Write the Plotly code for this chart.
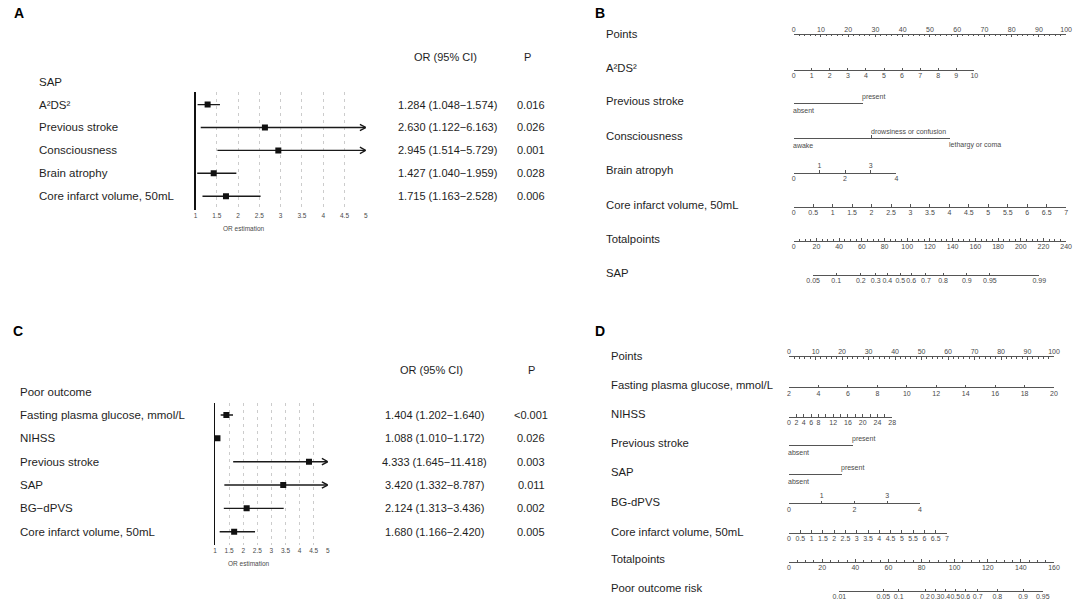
import plotly.graph_objects as go

W, H = 1084, 603
FONT = "Liberation Sans, Arial, sans-serif"
TXT = "#1e1e1e"
LINE_C = "#555555"
TICK_C = "#4a4a4a"

# ---------------- Panel A: forest plot (SAP) ----------------
a_header = "SAP"
a_vars = ["A²DS²", "Previous stroke", "Consciousness", "Brain atrophy", "Core infarct volume, 50mL"]
a_or = [1.284, 2.630, 2.945, 1.427, 1.715]
a_lo = [1.048, 1.122, 1.514, 1.040, 1.163]
a_hi = [1.574, 6.163, 5.729, 1.959, 2.528]
a_p = ["0.016", "0.026", "0.001", "0.028", "0.006"]

# ---------------- Panel C: forest plot (Poor outcome) ----------------
c_header = "Poor outcome"
c_vars = ["Fasting plasma glucose, mmol/L", "NIHSS", "Previous stroke", "SAP", "BG−dPVS",
          "Core infarct volume, 50mL"]
c_or = [1.404, 1.088, 4.333, 3.420, 2.124, 1.680]
c_lo = [1.202, 1.010, 1.645, 1.332, 1.313, 1.166]
c_hi = [1.640, 1.172, 11.418, 8.787, 3.436, 2.420]
c_p = ["<0.001", "0.026", "0.003", "0.011", "0.002", "0.005"]

forest_xmin, forest_xmax = 1, 5

# ---------------- Panel B: nomogram (SAP) ----------------
b_points_max = 100
b_a2ds2_max, b_a2ds2_pts = 10, 66.3
b_prev_labels = ["absent", "present"]
b_prev_pts = [0, 25.4]
b_cons_labels = ["awake", "drowsiness or confusion", "lethargy or coma"]
b_cons_pts = [0, 28.6, 57.2]
b_atrophy_max, b_atrophy_pts = 4, 37.7
b_core_max, b_core_pts = 7, 100
b_total_max = 240
b_sap_labels = ["0.05", "0.1", "0.2", "0.3", "0.4", "0.5", "0.6", "0.7", "0.8", "0.9", "0.95", "0.99"]
b_sap_total = [17.1, 37.4, 59.1, 72.2, 82.4, 93.9, 103.5, 116.5, 131.6, 152.5, 172.8, 216.3]

# ---------------- Panel D: nomogram (Poor outcome) ----------------
d_points_max = 100
d_fpg_min, d_fpg_max = 2, 20
d_nihss_ticks = [0, 2, 4, 6, 8, 10, 12, 14, 16, 18, 20, 22, 24, 26, 28]
d_nihss_labels = ["0", "2", "4", "6", "8", "", "12", "", "16", "", "20", "", "24", "", "28"]
d_nihss_pts = 38.9
d_prev_labels = ["absent", "present"]
d_prev_pts = [0, 24.0]
d_sap_labels = ["absent", "present"]
d_sap_pts = [0, 20.0]
d_bg_max, d_bg_pts = 4, 49.4
d_core_max, d_core_pts = 7, 59.6
d_total_max = 160
d_risk_labels = ["0.01", "0.05", "0.1", "0.2", "0.3", "0.4", "0.5", "0.6", "0.7", "0.8", "0.9", "0.95"]
d_risk_total = [30.4, 56.9, 66.2, 82.1, 88.5, 94.4, 100.4, 106.4, 113.9, 125.8, 141.3, 153.2]

# ============================================================
layout = {}
traces = []
annotations = []


def py(px):
    return 1 - px / H


def txt(x_px, y_px, text, size=11.5, xanchor="left", color=TXT, bold=False):
    annotations.append(dict(
        x=x_px / W, xref="paper", y=py(y_px), yref="paper",
        text=("<b>%s</b>" % text if bold else text), showarrow=False,
        xanchor=xanchor, yanchor="middle",
        font=dict(size=size, color=color, family=FONT)))


def forest(xid, yid, x0px, x1px, ytop_px, ybot_px, row0_px, row_h, header, names, ors, los, his, pvals,
           label_x, or_x, p_x, hdr_y, or_hdr_x, p_hdr_x, title_x, title_y):
    n = len(names)
    rows = list(range(1, n + 1))
    yr = [(ybot_px - row0_px) / row_h, (ytop_px - row0_px) / row_h]
    layout["xaxis" if xid == 1 else f"xaxis{xid}"] = dict(
        domain=[x0px / W, x1px / W], range=[forest_xmin, forest_xmax], anchor=f"y{yid if yid > 1 else ''}",
        tickmode="linear", tick0=1, dtick=0.5, showgrid=True, gridcolor="#cccccc", gridwidth=1,
        griddash="3px,4px", showline=False, zeroline=False, ticks="", tickangle=0,
        tickfont=dict(size=6.5, color=TICK_C, family=FONT), fixedrange=True)
    layout["yaxis" if yid == 1 else f"yaxis{yid}"] = dict(
        domain=[py(ybot_px), py(ytop_px)], range=yr, anchor=f"x{xid if xid > 1 else ''}",
        showline=True, linecolor="#111111", linewidth=1.3, showgrid=False, zeroline=False,
        showticklabels=False, ticks="", fixedrange=True)
    xa = "x" if xid == 1 else f"x{xid}"
    ya = "y" if yid == 1 else f"y{yid}"
    xs, ys = [], []
    for r, lo, hi in zip(rows, los, his):
        xs += [lo, min(hi, forest_xmax), None]
        ys += [r, r, None]
    # chevrons for CIs beyond the axis
    ux = (forest_xmax - forest_xmin) / (x1px - x0px)
    uy = 1 / row_h
    cx, cy = [], []
    for r, hi in zip(rows, his):
        if hi > forest_xmax:
            cx += [forest_xmax - 6 * ux, forest_xmax, forest_xmax - 6 * ux, None]
            cy += [r - 3.2 * uy, r, r + 3.2 * uy, None]
    traces.append(go.Scatter(x=xs, y=ys, mode="lines", line=dict(color="#1a1a1a", width=1.4),
                             xaxis=xa, yaxis=ya, showlegend=False, hoverinfo="skip"))
    traces.append(go.Scatter(x=cx, y=cy, mode="lines", line=dict(color="#1a1a1a", width=1.4),
                             xaxis=xa, yaxis=ya, showlegend=False, hoverinfo="skip"))
    traces.append(go.Scatter(x=ors, y=rows, mode="markers",
                             marker=dict(symbol="square", size=6, color="#111111"),
                             xaxis=xa, yaxis=ya, showlegend=False, hoverinfo="skip"))
    # texts (row r sits at row0_px + r*row_h)
    txt(label_x, row0_px, header)
    for r, nm, o, lo, hi, p in zip(rows, names, ors, los, his, pvals):
        ypx = row0_px + r * row_h
        txt(label_x, ypx, nm)
        txt(or_x, ypx, "%.3f (%.3f−%.3f)" % (o, lo, hi), size=11, xanchor="center")
        txt(p_x, ypx, p, size=11, xanchor="center")
    txt(or_hdr_x, hdr_y, "OR (95% CI)", size=11, xanchor="center")
    txt(p_hdr_x, hdr_y, "P", size=11, xanchor="center")
    txt(title_x, title_y, "OR estimation", size=6.5, xanchor="center", color=TICK_C)


forest(1, 1, 191, 363.5, 92, 210, 81.7, 22.9, a_header, a_vars, a_or, a_lo, a_hi, a_p,
       30, 446, 531, 57, 444, 527, 240, 228)
forest(2, 2, 210.7, 325, 403, 545, 391.7, 23.33, c_header, c_vars, c_or, c_lo, c_hi, c_p,
       11, 433, 531, 370, 430, 531.5, 245, 563)

# ---------------- nomogram helpers ----------------
next_id = [3]


def new_id():
    k = next_id[0]
    next_id[0] += 1
    return k


def nomo_axis(dom, ypx, rng, side="bottom", **kw):
    k = new_id()
    yl = py(ypx)
    ydom = [yl, yl + 0.004] if side == "bottom" else [yl - 0.004, yl]
    ax = dict(domain=dom, range=rng, anchor=f"y{k}", side=side, showline=True, linecolor=LINE_C,
              linewidth=1, ticks="inside", ticklen=2.5, tickwidth=1, tickcolor=LINE_C, tickangle=0,
              tickfont=dict(size=7, color=TICK_C, family=FONT), showgrid=False, zeroline=False,
              ticklabelstandoff=-1, fixedrange=True)
    ax.update(kw)
    layout[f"xaxis{k}"] = ax
    layout[f"yaxis{k}"] = dict(domain=ydom, range=[0, 1], visible=False, fixedrange=True, anchor=f"x{k}")
    traces.append(go.Scatter(x=[None], y=[None], xaxis=f"x{k}", yaxis=f"y{k}", showlegend=False,
                             hoverinfo="skip"))
    return k


def nomo_top(base, rng, tickvals, ticktext):
    k = new_id()
    layout[f"xaxis{k}"] = dict(overlaying=f"x{base}", anchor=f"y{base}", side="top", range=rng,
                               tickmode="array", tickvals=tickvals, ticktext=ticktext, ticks="",
                               showline=False, showgrid=False, zeroline=False, tickangle=0,
                               tickfont=dict(size=7, color=TICK_C, family=FONT), fixedrange=True)
    traces.append(go.Scatter(x=[None], y=[None], xaxis=f"x{k}", yaxis=f"y{base}", showlegend=False,
                             hoverinfo="skip"))
    return k


def cat_labels(k, positions, labels, above, ypx):
    for pos, lab, up in zip(positions, labels, above):
        annotations.append(dict(
            x=pos, xref=f"x{k}", y=py(ypx + (-6.5 if up else 7.5)), yref="paper", text=lab,
            showarrow=False, xanchor="left", yanchor="middle", xshift=-3,
            font=dict(size=7, color=TICK_C, family=FONT)))


# ---------------- Panel B ----------------
bP0, bP100 = 797, 1073


def bdom(p0, p1):
    return [(bP0 + p0 / b_points_max * (bP100 - bP0)) / W, (bP0 + p1 / b_points_max * (bP100 - bP0)) / W]


def btdom(t0, t1):
    return bdom(t0 / b_total_max * b_points_max, t1 / b_total_max * b_points_max)


bx = 605
for lab, y in [("Points", 33.5), ("A²DS²", 68), ("Previous stroke", 101.5), ("Consciousness", 136),
               ("Brain atropyh", 170), ("Core infarct volume, 50mL", 205), ("Totalpoints", 239),
               ("SAP", 272.5)]:
    txt(bx, y, lab, size=11.3)

nomo_axis(bdom(0, b_points_max), 34.5, [0, b_points_max], side="top", tickmode="linear", tick0=0, dtick=10,
          minor=dict(dtick=2, ticks="inside", ticklen=1.8, tickcolor=LINE_C))
nomo_axis(bdom(0, b_a2ds2_pts), 70, [0, b_a2ds2_max], tickmode="linear", tick0=0, dtick=1)
k = nomo_axis(bdom(0, b_prev_pts[-1]), 103.3, [0, b_prev_pts[-1]], tickmode="array",
              tickvals=b_prev_pts, ticktext=["" for _ in b_prev_pts])
cat_labels(k, b_prev_pts, b_prev_labels, [False, True], 103.3)
k = nomo_axis(bdom(0, b_cons_pts[-1]), 137.7, [0, b_cons_pts[-1]], tickmode="array",
              tickvals=b_cons_pts, ticktext=["" for _ in b_cons_pts])
cat_labels(k, b_cons_pts, b_cons_labels, [False, True, False], 137.7)
k = nomo_axis(bdom(0, b_atrophy_pts), 172.7, [0, b_atrophy_max], tickmode="array",
              tickvals=[0, 1, 2, 3, 4], ticktext=["0", "", "2", "", "4"])
nomo_top(k, [0, b_atrophy_max], [1, 3], ["1", "3"])
nomo_axis(bdom(0, b_core_pts), 206.7, [0, b_core_max], tickmode="linear", tick0=0, dtick=0.5)
nomo_axis(bdom(0, b_points_max), 240.7, [0, b_total_max], tickmode="linear", tick0=0, dtick=20,
          minor=dict(dtick=5, ticks="inside", ticklen=1.8, tickcolor=LINE_C))
nomo_axis(btdom(b_sap_total[0], b_sap_total[-1]), 275, [b_sap_total[0], b_sap_total[-1]],
          tickmode="array", tickvals=b_sap_total, ticktext=b_sap_labels)

# ---------------- Panel D ----------------
dP0, dP100 = 792.3, 1060.7


def ddom(p0, p1):
    return [(dP0 + p0 / d_points_max * (dP100 - dP0)) / W, (dP0 + p1 / d_points_max * (dP100 - dP0)) / W]


def dtdom(t0, t1):
    return ddom(t0 / d_total_max * d_points_max, t1 / d_total_max * d_points_max)


dx = 609.5
for lab, y in [("Points", 356), ("Fasting plasma glucose, mmol/L", 385), ("NIHSS", 414.3),
               ("Previous stroke", 442.7), ("SAP", 472.3), ("BG-dPVS", 501.7),
               ("Core infarct volume, 50mL", 531.7), ("Totalpoints", 559.3), ("Poor outcome risk", 587.7)]:
    txt(dx, y, lab, size=11.3)

nomo_axis(ddom(0, d_points_max), 357, [0, d_points_max], side="top", tickmode="linear", tick0=0, dtick=10,
          minor=dict(dtick=2, ticks="inside", ticklen=1.8, tickcolor=LINE_C))
nomo_axis(ddom(0, d_points_max), 387.3, [d_fpg_min, d_fpg_max], tickmode="linear", tick0=2, dtick=2)
nomo_axis(ddom(0, d_nihss_pts), 416.7, [d_nihss_ticks[0], d_nihss_ticks[-1]], tickmode="array",
          tickvals=d_nihss_ticks, ticktext=d_nihss_labels)
k = nomo_axis(ddom(0, d_prev_pts[-1]), 445, [0, d_prev_pts[-1]], tickmode="array",
              tickvals=d_prev_pts, ticktext=["" for _ in d_prev_pts])
cat_labels(k, d_prev_pts, d_prev_labels, [False, True], 445)
k = nomo_axis(ddom(0, d_sap_pts[-1]), 474, [0, d_sap_pts[-1]], tickmode="array",
              tickvals=d_sap_pts, ticktext=["" for _ in d_sap_pts])
cat_labels(k, d_sap_pts, d_sap_labels, [False, True], 474)
k = nomo_axis(ddom(0, d_bg_pts), 503.3, [0, d_bg_max], tickmode="array",
              tickvals=[0, 1, 2, 3, 4], ticktext=["0", "", "2", "", "4"])
nomo_top(k, [0, d_bg_max], [1, 3], ["1", "3"])
nomo_axis(ddom(0, d_core_pts), 532.7, [0, d_core_max], tickmode="linear", tick0=0, dtick=0.5)
nomo_axis(ddom(0, d_points_max), 561.7, [0, d_total_max], tickmode="linear", tick0=0, dtick=20,
          minor=dict(dtick=5, ticks="inside", ticklen=1.8, tickcolor=LINE_C))
nomo_axis(dtdom(d_risk_total[0], d_risk_total[-1]), 591, [d_risk_total[0], d_risk_total[-1]],
          tickmode="array", tickvals=d_risk_total, ticktext=d_risk_labels)

# ---------------- panel letters ----------------
for letter, x, y in [("A", 5, 13), ("B", 594, 13), ("C", 4, 331), ("D", 594, 331)]:
    txt(x, y, letter, size=14, bold=True, color="#000000")

fig = go.Figure(data=traces)
fig.update_layout(
    width=W, height=H, margin=dict(l=0, r=0, t=0, b=0),
    paper_bgcolor="white", plot_bgcolor="rgba(0,0,0,0)",
    font=dict(family=FONT, color=TXT), showlegend=False, hovermode=False,
    annotations=annotations, **layout)
fig.write_html("out.html", config={"displayModeBar": False, "staticPlot": True},
               post_script="document.body.style.margin='0';document.body.style.overflow='hidden';")
